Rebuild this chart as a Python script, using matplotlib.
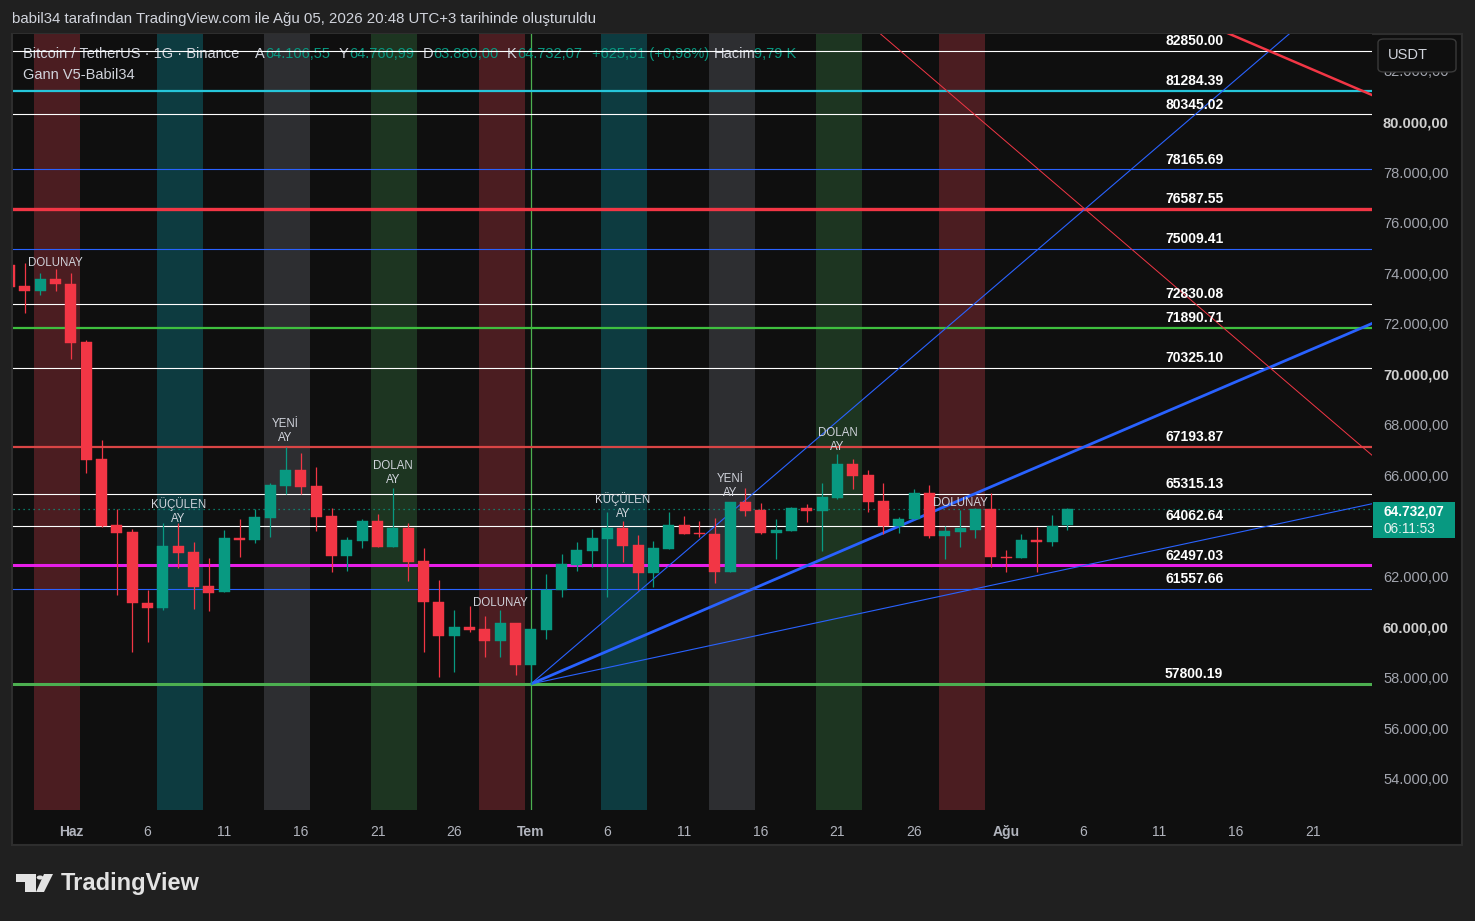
"""
BTC/USDT daily chart with Gann levels (TradingView dark look).
Saves out.png at 1475x921.
"""

import matplotlib
matplotlib.use("Agg")
import matplotlib.pyplot as plt
import matplotlib.transforms as mtransforms
from matplotlib.patches import Rectangle, FancyBboxPatch, Polygon, Circle

W, H = 1475, 921

# -------------------------------- Data -----------------------------------------#

# day index: 0 = 1 June (Haz), 30 = 1 July (Tem), 61 = 1 August (Agu)
days = list(range(-4, 66))
opens = [74380, 73550, 73350, 73830, 73630, 71340, 66700, 64090, 63820, 61010,
         60810, 63260, 63020, 61680, 61440, 63580, 63500, 64370, 65640, 66270,
         65640, 64450, 62870, 63460, 64250, 63220, 63970, 62670, 61050, 59700,
         60060, 59980, 59500, 60220, 58550, 59940, 61520, 62510, 63060, 63540,
         63970, 63300, 62190, 63140, 64090, 63780, 63740, 62230, 65000, 64690,
         63780, 63860, 64770, 64650, 65160, 66510, 66070, 65040, 64050, 64330,
         65360, 63660, 63820, 63900, 64730, 62830, 62790, 63500, 63420, 64106.55]
highs = [74420, 74460, 74070, 74220, 74070, 71400, 67460, 64730, 63940, 61520,
         64170, 64170, 63420, 62790, 63900, 64330, 64730, 65760, 67180, 66940,
         66390, 64770, 63620, 64330, 64530, 65560, 64170, 63180, 61920, 60730,
         60890, 60490, 60730, 60220, 59980, 62150, 62950, 63420, 63940, 64610,
         64250, 63700, 63460, 64610, 64450, 64250, 64370, 65000, 65560, 64960,
         64330, 64800, 64920, 65760, 66900, 66710, 66270, 65760, 64410, 65520,
         65680, 64050, 64690, 64770, 65360, 63100, 63740, 64010, 64490, 64760.99]
lows = [73480, 72480, 73190, 73350, 70660, 66150, 64000, 61320, 59070, 59460,
        60730, 62390, 60770, 60690, 61440, 62830, 63380, 63620, 65320, 65320,
        63860, 62230, 62270, 63180, 63220, 63220, 61880, 59070, 58080, 58280,
        59860, 58870, 58870, 58160, 57800, 59580, 61240, 62270, 62430, 61240,
        62630, 61520, 61640, 63140, 63740, 63620, 61800, 62230, 64450, 63740,
        62750, 63860, 64210, 63060, 65120, 65520, 64610, 63740, 63780, 64330,
        63580, 62750, 63220, 63580, 62430, 62230, 62790, 62230, 63260, 63880.00]
closes = [73510, 73350, 73830, 73630, 71300, 66670, 64050, 63780, 61010, 60810,
          63260, 62990, 61640, 61400, 63580, 63500, 64410, 65680, 66270, 65600,
          64410, 62870, 63500, 64250, 63220, 63970, 62630, 61050, 59700, 60060,
          59940, 59500, 60220, 58550, 59980, 61520, 62550, 63100, 63580, 63970,
          63260, 62190, 63180, 64090, 63740, 63740, 62230, 65000, 64650, 63780,
          63900, 64770, 64650, 65200, 66510, 66030, 65000, 64050, 64330, 65360,
          63660, 63860, 63970, 64730, 62830, 62790, 63500, 63420, 64050, 64732.07]
last_price = 64732.07

# moon phase bands (start day, 3 days wide)
band_starts = [-2.4, 5.6, 12.6, 19.6, 26.6, 34.6, 41.6, 48.6, 56.6]
band_colors = ["#4b1d21", "#0d3b40", "#2d2e31", "#1d3521", "#4b1d21",
               "#0d3b40", "#2d2e31", "#1d3521", "#4b1d21"]
band_width = 3

# moon phase labels (day, price where text is centred)
moon_labels = ["DOLUNAY", "KÜÇÜLEN\nAY", "YENİ\nAY", "DOLAN\nAY", "DOLUNAY",
               "KÜÇÜLEN\nAY", "YENİ\nAY", "DOLAN\nAY", "DOLUNAY"]
moon_days = [-1, 7, 14, 21, 28, 36, 43, 50, 58]
moon_prices = [74460, 64650, 67810, 66150, 61010, 64840, 65640, 67460, 64960]

# Gann horizontal levels
level_prices = [82850.00, 81284.39, 80345.02, 78165.69, 76587.55, 75009.41,
                72830.08, 71890.71, 70325.10, 67193.87, 65315.13, 64062.64,
                62497.03, 61557.66, 57800.19]
level_colors = ["#ffffff", "#26c6da", "#ffffff", "#2962ff", "#f23645", "#2962ff",
                "#ffffff", "#3fbf3f", "#ffffff", "#d94545", "#ffffff", "#ffffff",
                "#e81ee8", "#2962ff", "#4caf50"]
level_widths = [0.8, 1.6, 0.8, 0.8, 2.4, 0.8, 0.8, 1.6, 0.8, 1.6, 0.8, 0.8, 2.2, 0.8, 2.2]

# Gann fan lines: anchor day, anchor price, slope (price per day)
fan_days = [30, 30, 30, 66.15, 78.17]
fan_prices = [57800.19, 57800.19, 57800.19, 76587.55, 82850.00]
fan_slopes = [520, 260, 130, -520, -260]
fan_colors = ["#2962ff", "#2962ff", "#2962ff", "#f23645", "#f23645"]
fan_widths = [0.8, 2.0, 0.8, 0.7, 1.8]

# x tick labels
xtick_days = [0, 5, 10, 15, 20, 25, 30, 35, 40, 45, 50, 55, 61, 66, 71, 76, 81]
xtick_labels = ["Haz", "6", "11", "16", "21", "26", "Tem", "6", "11", "16", "21",
                "26", "Ağu", "6", "11", "16", "21"]
price_ticks = list(range(54000, 84000, 2000))

GREEN = "#089981"
RED = "#f23645"
TXT = "#d1d4dc"
FONT = ["Liberation Sans", "DejaVu Sans"]


# -------------------------------- Helpers -----------------------------------------#

def fx(x):
    return x / W


def fy(y):
    return 1 - y / H


def tr_num(v):
    """Turkish number format: 64.732,07"""
    s = f"{v:,.2f}"
    return s.replace(",", "X").replace(".", ",").replace("X", ".")


# -------------------------------- Figure -----------------------------------------#

plt.rcParams["font.family"] = FONT

fig = plt.figure(figsize=(W / 100, H / 100), dpi=100, facecolor="#202020")

# chart panel (behind the axes)
fig.patches.append(Rectangle((fx(12), fy(845)), fx(1462) - fx(12), fy(34) - fy(845),
                             transform=fig.transFigure, facecolor="#0f0f0f",
                             edgecolor="#2e2e2e", linewidth=1.5, zorder=-5))

ax = fig.add_axes([fx(13), fy(810), fx(1372) - fx(13), fy(34) - fy(810)])
ax.set_zorder(1)
ax.set_facecolor("#0f0f0f")
for s in ax.spines.values():
    s.set_visible(False)
ax.set_xlim(-3.78, 84.87)
ax.set_ylim(52815, 83522)

# bands
for b, c in zip(band_starts, band_colors):
    ax.axvspan(b, b + band_width, color=c, lw=0, zorder=1)

# vertical line at 1 July
ax.axvline(30, color="#4caf50", lw=0.9, zorder=3)

# horizontal levels with labels
blend = mtransforms.blended_transform_factory(ax.transAxes, ax.transData)
for p, c, w in zip(level_prices, level_colors, level_widths):
    ax.axhline(p, color=c, lw=w, zorder=4)
    ax.annotate(f"{p:.2f}", xy=((1165 - 13) / 1359, p), xycoords=blend,
                xytext=(0, 2), textcoords="offset points", ha="left", va="bottom",
                color="white", fontsize=10, fontweight="bold", zorder=8)

# last price dotted line
ax.axhline(last_price, color=GREEN, lw=0.9, ls=(0, (1, 3)), zorder=4)

# fan lines
x0, x1 = ax.get_xlim()
for d, p, k, c, w in zip(fan_days, fan_prices, fan_slopes, fan_colors, fan_widths):
    xs = [30, x1 + 1]
    ys = [p + k * (x - d) for x in xs]
    ax.plot(xs, ys, color=c, lw=w, zorder=5, solid_capstyle="butt")
ax.set_xlim(x0, x1)

# candles
body_w = 0.72
for d, o, h, l, c in zip(days, opens, highs, lows, closes):
    col = GREEN if c >= o else RED
    ax.vlines(d, l, h, color=col, lw=0.9, zorder=6)
    lo, hi = min(o, c), max(o, c)
    if hi - lo < 40:
        hi = lo + 40
    ax.add_patch(Rectangle((d - body_w / 2, lo), body_w, hi - lo,
                           facecolor=col, edgecolor=col, lw=0.3, zorder=7))

# moon labels
for t, d, p in zip(moon_labels, moon_days, moon_prices):
    ax.text(d, p, t, color=TXT, fontsize=8.3, ha="center", va="center",
            linespacing=1.2, zorder=9)

# x ticks
ax.set_xticks(xtick_days)
ax.set_xticklabels(xtick_labels)
ax.tick_params(axis="x", length=0, pad=11, colors="#b2b5be", labelsize=10)
for lbl, txt in zip(ax.get_xticklabels(), xtick_labels):
    if not txt.isdigit():
        lbl.set_fontweight("bold")
ax.set_yticks([])

# price axis labels (the one under the last-price box is hidden, as on TradingView)
for p in price_ticks:
    if abs(p - last_price) < 900:
        continue
    bold = p % 10000 == 0
    ax.text((1383 - 13) / 1359, p, tr_num(p), transform=blend, ha="left", va="center",
            color="#cfcfcf" if bold else "#a3a6af", fontsize=10.5,
            fontweight="bold" if bold else "normal", clip_on=False, zorder=2)

# USDT box (covers most of the top price label)
fig.patches.append(FancyBboxPatch((fx(1378), fy(72)), fx(1456) - fx(1378), fy(39) - fy(72),
                                  boxstyle="round,pad=0,rounding_size=0.004",
                                  transform=fig.transFigure, facecolor="#0f0f0f",
                                  edgecolor="#3a3a3a", lw=1, zorder=20))
fig.text(fx(1388), fy(55), "USDT", color=TXT, fontsize=10.5, va="center", ha="left", zorder=21)

# last price box
fig.patches.append(Rectangle((fx(1373), fy(538)), fx(1455) - fx(1373), fy(502) - fy(538),
                             transform=fig.transFigure, facecolor=GREEN, lw=0, zorder=20))
fig.text(fx(1384), fy(511), tr_num(last_price), color="white", fontsize=9.8,
         fontweight="bold", va="center", ha="left", zorder=21)
fig.text(fx(1384), fy(529), "06:11:53", color="#e6f2ef", fontsize=9.8,
         va="center", ha="left", zorder=21)

# header
fig.text(fx(12), fy(19), "babil34 tarafından TradingView.com ile Ağu 05, 2026 20:48 UTC+3 "
         "tarihinde oluşturuldu", color=TXT, fontsize=10.8, va="center", ha="left")

# legend row (under the 82850 line)
legend_parts = [(23, "Bitcoin / TetherUS · 1G · Binance", TXT), (255, "A", TXT),
                (265, "64.106,55", GREEN), (339, "Y", TXT), (349, "64.760,99", GREEN),
                (423, "D", TXT), (433, "63.880,00", GREEN), (507, "K", TXT),
                (517, "64.732,07", GREEN), (592, "+625,51 (+0,98%)", GREEN),
                (714, "Hacim", TXT), (754, "9,79 K", GREEN)]
for x, t, c in legend_parts:
    ax.text(fx(x), fy(54), t, transform=fig.transFigure, color=c, fontsize=10.5,
            va="center", ha="left", zorder=3)
ax.text(fx(23), fy(75), "Gann V5-Babil34", transform=fig.transFigure, color=TXT,
        fontsize=10.5, va="center", ha="left", zorder=3)

# TradingView logo
logo = "#e3e3e3"
fig.patches.append(Polygon([(fx(16), fy(874)), (fx(36), fy(874)), (fx(36), fy(892)),
                            (fx(25), fy(892)), (fx(25), fy(882)), (fx(16), fy(882))],
                           closed=True, transform=fig.transFigure, facecolor=logo, lw=0))
fig.patches.append(Circle((fx(40), fy(877.5)), 3.3 / W, transform=fig.transFigure,
                          facecolor=logo, lw=0))
fig.patches.append(Polygon([(fx(44), fy(874)), (fx(53), fy(874)), (fx(44), fy(892)),
                            (fx(36), fy(892))],
                           closed=True, transform=fig.transFigure, facecolor=logo, lw=0))
fig.text(fx(61), fy(883), "TradingView", color=logo, fontsize=17, fontweight="bold",
         va="center", ha="left")

fig.savefig("out.png", dpi=100, facecolor=fig.get_facecolor())
